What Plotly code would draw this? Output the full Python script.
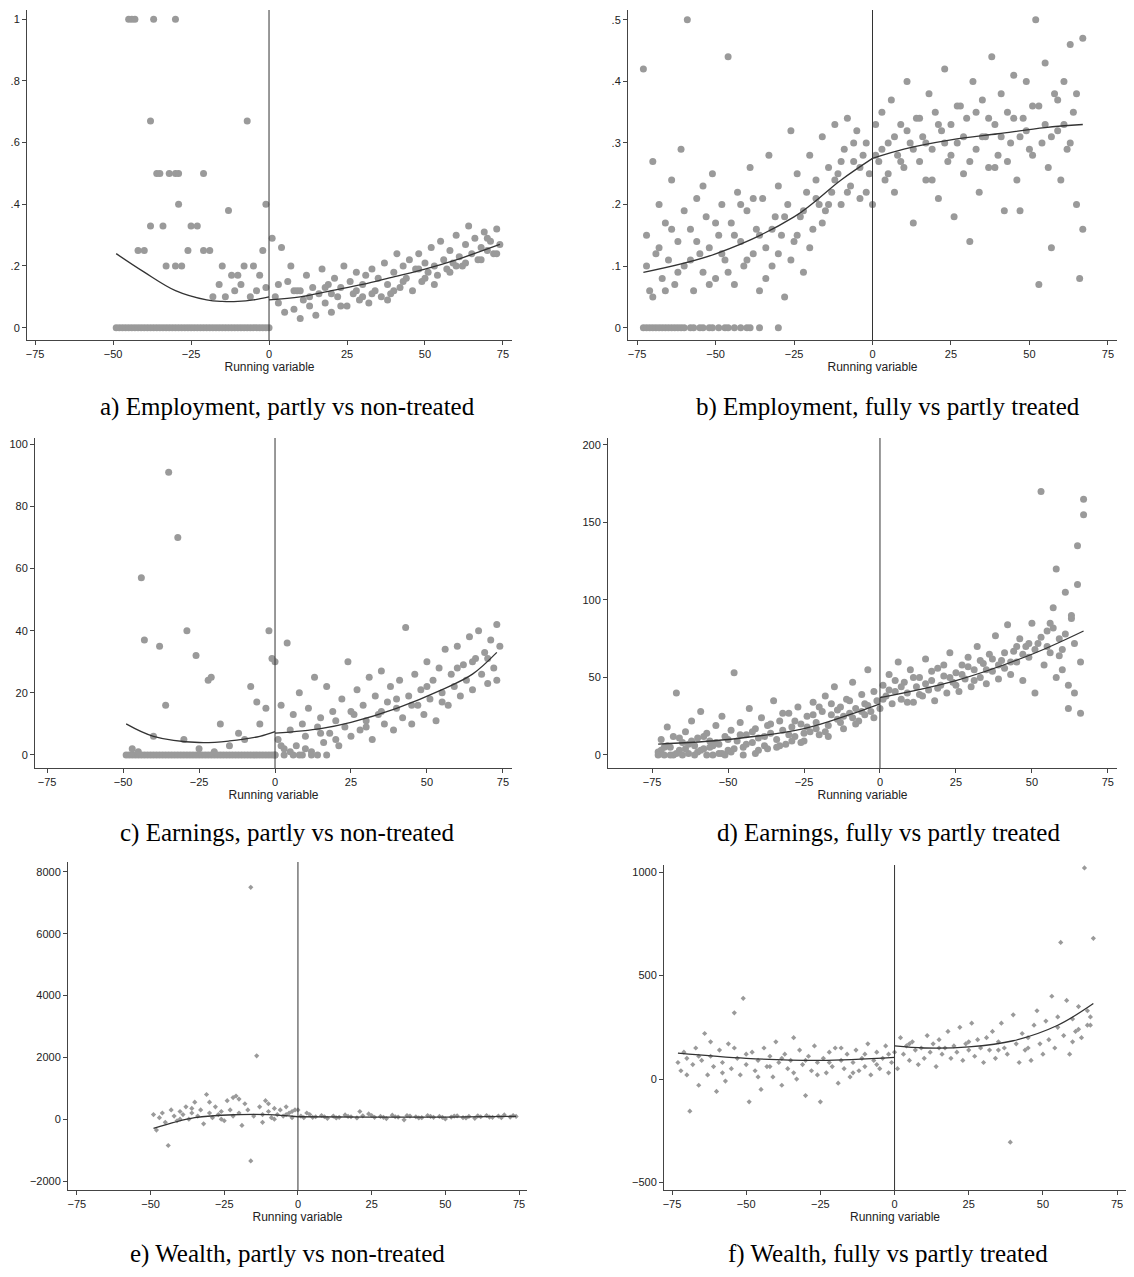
import plotly.graph_objects as go

# ---- panel a: employment, partly vs non-treated ----
a_x = [-49, -48, -47, -46, -45, -44, -43, -42, -41, -40, -39, -38, -37, -36, -35, -34, -33, -32, -31, -30,
       -29, -28, -27, -26, -25, -24, -23, -22, -21, -20, -19, -18, -17, -16, -15, -14, -13, -12, -11, -10,
       -9, -8, -7, -6, -5, -4, -3, -2, -1, 0,
       -45, -44, -43, -37, -30, -38, -7, -38, -36, -35, -32, -30, -29, -21, -40, -42, -33, -30, -28, -29,
       -25, -23, -21, -19, -13, -15, -12, -10, -8, -5, -3, -1, -2, -16, -11, -6, -4, -18, -14, -9, -1, -26, -34,
       1, 2, 3, 4, 5, 6, 7, 8, 9, 10, 11, 12, 13, 14, 15, 16, 17, 18, 19, 20, 21, 22, 23, 24, 25, 26, 27, 28,
       29, 30, 31, 32, 33, 34, 35, 36, 37, 38, 39, 40, 41, 42, 43, 44, 45, 46, 47, 48, 49, 50, 51, 52, 53, 54,
       55, 56, 57, 58, 59, 60, 61, 62, 63, 64, 65, 66, 67, 68, 69, 70, 71, 72, 73, 74,
       3, 8, 13, 18, 23, 28, 33, 38, 43, 48, 53, 58, 63, 68, 73, 10, 20, 30, 40, 50, 60, 70]
a_y = [0] * 50 + [
    1, 1, 1, 1, 1, .67, .67, .33, .5, .5, .5, .5, .5, .5, .25, .25, .2, .2, .2, .4,
    .33, .33, .25, .25, .38, .2, .17, .17, .2, .2, .17, .4, .25, .14, .12, .1, .12, .1, .1, .14, .13, .25, .33,
    .29, .1, .08, .26, .05, .15, .2, .06, .12, .03, .09, .17, .07, .13, .04, .11, .19, .08, .14, .05, .16, .1,
    .13, .2, .07, .15, .11, .18, .09, .14, .17, .08, .19, .12, .16, .1, .21, .14, .11, .18, .24, .13, .2, .16,
    .22, .12, .19, .24, .15, .21, .18, .26, .2, .17, .28, .22, .19, .25, .21, .3, .23, .2, .27, .33, .24, .29,
    .22, .26, .31, .25, .28, .24, .32, .27,
    .14, .12, .1, .13, .07, .12, .11, .09, .15, .19, .14, .18, .21, .22, .24, .12, .11, .1, .12, .16, .2, .29]
a_fit_lx = [-49, -40, -30, -20, -15, -10, -5, 0]
a_fit_ly = [.24, .18, .12, .09, .085, .085, .09, .1]
a_fit_rx = [0, 10, 20, 30, 40, 50, 60, 74]
a_fit_ry = [.09, .1, .12, .14, .165, .19, .22, .27]

# ---- panel b: employment, fully vs partly treated ----
b_x = [-73, -72, -71, -70, -69, -68, -67, -66, -65, -64, -63, -62, -61, -60, -59, -58, -57, -56, -55, -54,
       -53, -52, -51, -50, -49, -48, -47, -46, -45, -44, -43, -42, -41, -40, -39, -38, -37, -36, -35, -34,
       -33, -32, -31, -30, -29, -28, -27, -26, -25, -24, -23, -22, -21, -20, -19, -18, -17, -16, -15, -14,
       -13, -12, -11, -10, -9, -8, -7, -6, -5, -4, -3, -2, -1,
       -72, -70, -68, -66, -64, -62, -60, -58, -56, -54, -52, -50, -48, -46, -44, -42, -40, -38, -36, -34,
       -32, -30, -28, -26, -24, -22, -20, -18, -16, -14, -12, -10, -8, -6, -4, -2,
       -73, -72, -71, -70, -69, -68, -67, -66, -65, -64, -63, -62, -61, -60, -58, -57, -55, -54, -52, -51,
       -49, -47, -46, -44, -42, -40, -39, -36, -30,
       0, 1, 2, 3, 4, 5, 6, 7, 8, 9, 10, 11, 12, 13, 14, 15, 16, 17, 18, 19, 20, 21, 22, 23, 24, 25, 26, 27,
       28, 29, 30, 31, 32, 33, 34, 35, 36, 37, 38, 39, 40, 41, 42, 43, 44, 45, 46, 47, 48, 49, 50, 51, 52, 53,
       54, 55, 56, 57, 58, 59, 60, 61, 62, 63, 64, 65, 66, 67,
       1, 3, 5, 7, 9, 11, 13, 15, 17, 19, 21, 23, 25, 27, 29, 31, 33, 35, 37, 39, 41, 43, 45, 47, 49, 51, 53,
       55, 57, 59, 61, 63, 65, 67]
b_y = [.42, .15, .06, .27, .12, .2, .08, .17, .11, .24, .07, .14, .29, .1, .5, .16, .06, .21, .12, .09,
       .18, .13, .25, .08, .15, .2, .11, .44, .17, .07, .22, .14, .1, .19, .26, .12, .16, .06, .21, .13,
       .28, .1, .18, .23, .15, .05, .2, .32, .14, .25, .18, .09, .22, .28, .16, .24, .2, .31, .19, .26,
       .22, .33, .25, .2, .29, .34, .23, .27, .32, .21, .28, .3, .25,
       .1, .05, .13, .06, .16, .09, .19, .11, .14, .23, .07, .17, .12, .09, .15, .2, .11, .21, .15, .08,
       .16, .12, .18, .11, .15, .19, .13, .21, .17, .2, .24, .27, .22, .3, .26, .22] + [0] * 29 + [
       .2, .33, .27, .35, .24, .3, .37, .22, .28, .33, .26, .4, .3, .17, .34, .27, .31, .24, .38, .29, .35,
       .21, .32, .42, .27, .33, .18, .3, .36, .25, .34, .14, .4, .29, .22, .37, .31, .26, .44, .33, .28, .38,
       .19, .35, .3, .41, .24, .19, .34, .4, .29, .36, .5, .07, .3, .43, .26, .13, .38, .32, .24, .4, .29,
       .46, .35, .2, .08, .16,
       .28, .29, .25, .31, .27, .32, .29, .34, .3, .24, .33, .3, .28, .36, .31, .27, .35, .31, .34, .26,
       .31, .27, .34, .31, .32, .28, .36, .33, .31, .37, .33, .3, .38, .47]
b_fit_lx = [-73, -50, -25, -10, 0]
b_fit_ly = [.09, .12, .18, .24, .275]
b_fit_rx = [0, 10, 25, 40, 55, 67]
b_fit_ry = [.275, .29, .305, .315, .325, .33]

# ---- panel c: earnings, partly vs non-treated ----
c_x = [-49, -48, -47, -46, -45, -44, -43, -42, -41, -40, -39, -38, -37, -36, -35, -34, -33, -32, -31, -30,
       -29, -28, -27, -26, -25, -24, -23, -22, -21, -20, -19, -18, -17, -16, -15, -14, -13, -12, -11, -10,
       -9, -8, -7, -6, -5, -4, -3, -2, -1, 0,
       -35, -32, -44, -43, -38, -29, -26, -36, -22, -21, -8, -2, -1, 0, -40, -30, -18, -15, -10, -5, -3, -6,
       -12, -25, -20, -47, -45,
       1, 2, 3, 4, 5, 6, 7, 8, 9, 10, 11, 12, 13, 14, 15, 16, 17, 18, 19, 20, 21, 22, 23, 24, 25, 26, 27, 28,
       29, 30, 31, 32, 33, 34, 35, 36, 37, 38, 39, 40, 41, 42, 43, 44, 45, 46, 47, 48, 49, 50, 51, 52, 53, 54,
       55, 56, 57, 58, 59, 60, 61, 62, 63, 64, 65, 66, 67, 68, 69, 70, 71, 72, 73, 74,
       2, 5, 8, 10, 15, 20, 25, 30, 35, 40, 45, 50, 55, 60, 65, 70, 73, 0, 3, 6, 9, 12, 14, 17]
c_y = [0] * 50 + [
    91, 70, 57, 37, 35, 40, 32, 16, 24, 25, 22, 40, 31, 30, 6, 5, 10, 3, 5, 10, 15, 17, 7, 2, 1, 2, 1,
    5, 16, 2, 36, 8, 13, 3, 20, 10, 6, 15, 1, 25, 9, 12, 4, 22, 7, 14, 11, 3, 18, 9, 30, 6, 13, 21, 8, 16,
    11, 25, 5, 19, 13, 27, 10, 17, 22, 8, 15, 24, 12, 41, 19, 10, 26, 16, 21, 13, 30, 18, 24, 11, 28, 20,
    34, 16, 26, 22, 35, 19, 29, 24, 38, 21, 31, 40, 26, 33, 23, 37, 28, 42, 35,
    3, 1, 0, 2, 7, 5, 14, 9, 14, 18, 16, 22, 17, 28, 30, 31, 24, 0, 0, 0, 0, 0, 0, 0]
c_fit_lx = [-49, -40, -25, -15, -5, 0]
c_fit_ly = [10, 6, 4, 4.5, 6, 7.5]
c_fit_rx = [0, 15, 25, 40, 55, 65, 73]
c_fit_ry = [7, 8.5, 10.5, 15, 21, 26, 33]

# ---- panel d: earnings, fully vs partly treated ----
d_x = [-73, -72, -71, -70, -69, -68, -67, -66, -65, -64, -63, -62, -61, -60, -59, -58, -57, -56, -55, -54,
       -53, -52, -51, -50, -49, -48, -47, -46, -45, -44, -43, -42, -41, -40, -39, -38, -37, -36, -35, -34,
       -33, -32, -31, -30, -29, -28, -27, -26, -25, -24, -23, -22, -21, -20, -19, -18, -17, -16, -15, -14,
       -13, -12, -11, -10, -9, -8, -7, -6, -5, -4, -3, -2, -1,
       -72, -70, -68, -66, -64, -62, -60, -58, -56, -54, -52, -50, -48, -46, -44, -42, -40, -38, -36, -34,
       -32, -30, -28, -26, -24, -22, -20, -18, -16, -14, -12, -10, -8, -6, -4, -2,
       -73, -71, -69, -67, -65, -63, -61, -59, -57, -55, -53, -51, -49, -45, -41, -37, -33, -29, -25, -21,
       -17, -13, -9, -5,
       0, 1, 2, 3, 4, 5, 6, 7, 8, 9, 10, 11, 12, 13, 14, 15, 16, 17, 18, 19, 20, 21, 22, 23, 24, 25, 26, 27,
       28, 29, 30, 31, 32, 33, 34, 35, 36, 37, 38, 39, 40, 41, 42, 43, 44, 45, 46, 47, 48, 49, 50, 51, 52, 53,
       54, 55, 56, 57, 58, 59, 60, 61, 62, 63, 64, 65, 66, 67,
       1, 3, 5, 7, 9, 11, 13, 15, 17, 19, 21, 23, 25, 27, 29, 31, 33, 35, 37, 39, 41, 43, 45, 47, 49, 51, 53,
       55, 57, 59, 61, 63, 65, 67, 66, 64, 62, 60, 58, 56]
d_y = [2, 10, 0, 18, 5, 12, 40, 3, 8, 15, 1, 22, 6, 11, 28, 4, 14, 9, 0, 19, 7, 25, 12, 3, 16, 53, 9, 21,
       5, 13, 30, 8, 17, 11, 24, 6, 19, 14, 35, 10, 22, 16, 7, 27, 18, 12, 31, 20, 9, 25, 15, 34, 21, 13,
       28, 38, 19, 26, 44, 23, 31, 17, 36, 27, 47, 30, 22, 39, 33, 55, 28, 41, 35,
       3, 6, 0, 11, 4, 9, 2, 12, 5, 8, 1, 10, 4, 13, 7, 15, 3, 12, 20, 5, 27, 13, 22, 8, 18, 26, 31, 15, 33,
       29, 25, 35, 20, 28, 32, 24,
       0, 5, 0, 1, 0, 7, 0, 3, 0, 6, 1, 0, 2, 0, 1, 4, 6, 9, 14, 17, 12, 21, 24, 26,
       30, 45, 38, 52, 33, 41, 60, 36, 47, 40, 55, 34, 44, 50, 38, 62, 42, 48, 35, 56, 45, 51, 40, 66, 47,
       53, 41, 58, 49, 63, 44, 55, 70, 50, 59, 46, 65, 54, 77, 49, 61, 56, 84, 52, 67, 60, 75, 48, 70, 63,
       85, 40, 72, 170, 58, 80, 66, 95, 50, 75, 68, 105, 45, 88, 72, 135, 60, 155,
       36, 42, 48, 44, 34, 50, 39, 46, 54, 43, 58, 50, 45, 52, 57, 48, 61, 55, 62, 58, 66, 60, 70, 65, 72,
       68, 76, 70, 82, 64, 78, 90, 110, 165, 27, 40, 30, 55, 120, 85]
d_fit_lx = [-73, -50, -25, -10, 0]
d_fit_ly = [7, 10, 17, 26, 33]
d_fit_rx = [0, 25, 50, 67]
d_fit_ry = [37, 48, 65, 80]

# ---- panel e: wealth, partly vs non-treated ----
e_x = [-49, -48, -47, -46, -45, -44, -43, -42, -41, -40, -39, -38, -37, -36, -35, -34, -33, -32, -31, -30,
       -29, -28, -27, -26, -25, -24, -23, -22, -21, -20, -19, -18, -17, -16, -15, -14, -13, -12, -11, -10,
       -9, -8, -7, -6, -5, -4, -3, -2, -1,
       -16, -30, -22, -20, -12, -8, -4, -2, -10, -26, -36, -40,
       0, 2, 4, 6, 8, 10, 12, 14, 16, 18, 20, 22, 24, 26, 28, 30, 32, 34, 36, 38, 40, 42, 44, 46, 48, 50,
       52, 54, 56, 58, 60, 62, 64, 66, 68, 70, 72, 74,
       1, 3, 5, 9, 13, 17, 21, 25, 29, 33, 37, 41, 45, 49, 53, 57, 61, 65, 69, 73]
e_y = [150, -350, 50, 200, -100, -850, 300, 100, -50, 250, 150, 400, 0, 200, 550, 100, 300, -150, 800, 200,
       50, 400, 150, 250, -50, 600, 300, 100, 750, 200, -200, 500, 300, 7500, 100, 2050, 400, 150, 600, 250,
       50, 350, 150, 300, 100, 400, 200, 250, 300,
       -1350, 550, 700, 650, -100, 0, 150, 50, 500, 0, 350, 0,
       300, 50, 150, 80, 120, 30, 100, 60, 140, 80, 40, 110, 170, 60, 90, 20, 130, 70, -20, 100, 80, 50,
       120, 60, 90, 10, 70, 110, 50, 90, 30, 80, 120, 60, 100, 140, 70, 90,
       100, 200, 60, 80, 40, 90, 250, 120, 60, 80, 120, 40, 90, 60, 100, 40, 110, 70, 50, 120]
e_fit_lx = [-49, -35, -20, -10, 0]
e_fit_ly = [-300, 50, 150, 150, 80]
e_fit_rx = [0, 25, 50, 74]
e_fit_ry = [80, 65, 70, 90]

# ---- panel f: wealth, fully vs partly treated ----
f_x = [-73, -72, -71, -70, -69, -68, -67, -66, -65, -64, -63, -62, -61, -60, -59, -58, -57, -56, -55, -54,
       -53, -52, -51, -50, -49, -48, -47, -46, -45, -44, -43, -42, -41, -40, -39, -38, -37, -36, -35, -34,
       -33, -32, -31, -30, -29, -28, -27, -26, -25, -24, -23, -22, -21, -20, -19, -18, -17, -16, -15, -14,
       -13, -12, -11, -10, -9, -8, -7, -6, -5, -4, -3, -2, -1,
       -70, -66, -62, -58, -54, -50, -46, -42, -38, -34, -30, -26, -22, -18, -14, -10, -6, -2,
       0, 1, 2, 3, 4, 5, 6, 7, 8, 9, 10, 11, 12, 13, 14, 15, 16, 17, 18, 19, 20, 21, 22, 23, 24, 25, 26, 27,
       28, 29, 30, 31, 32, 33, 34, 35, 36, 37, 38, 39, 40, 41, 42, 43, 44, 45, 46, 47, 48, 49, 50, 51, 52, 53,
       54, 55, 56, 57, 58, 59, 60, 61, 62, 63, 64, 65, 66, 67,
       5, 15, 25, 35, 45, 55, 60, 62, 65, 66]
f_y = [80, 40, 130, 100, -155, 70, 150, -30, 90, 220, 20, 110, 60, -60, 140, 80, -10, 170, 50, 320, 100,
       20, 390, 70, -110, 130, 40, 90, -50, 150, 60, 110, 10, 180, 80, -30, 120, 50, 90, 200, 0, 140, 70,
       -80, 110, 40, 160, 80, -110, 100, 30, 130, 60, 150, -20, 90, 50, 120, 10, 80, 140, 40, 100, 60, 170,
       20, 90, 130, 50, 100, 160, 30, 80,
       20, 110, 180, 30, 150, 120, 10, 60, 100, 30, 90, 20, 80, 150, 30, 120, 70, 120,
       130, 50, 200, 120, 160, 90, 180, 140, 70, 150, 100, 210, 130, 170, 60, 190, 120, 150, 230, 100, 160,
       130, 250, 90, 170, 140, 270, 110, 190, 150, 80, 200, 140, 230, 100, 180, 270, 150, 120, -305, 310,
       170, 80, 220, 140, 200, 90, 260, 330, 170, 120, 280, 190, 400, 150, 300, 660, 210, 380, 120, 290,
       230, 350, 200, 1020, 260, 300, 680,
       170, 150, 180, 140, 150, 250, 180, 240, 330, 260]
f_fit_lx = [-73, -50, -25, 0]
f_fit_ly = [125, 100, 90, 105]
f_fit_rx = [0, 10, 25, 40, 55, 67]
f_fit_ry = [160, 150, 155, 185, 260, 365]

x_ticks = [-75, -50, -25, 0, 25, 50, 75]
captions = ["a) Employment, partly vs non-treated", "b) Employment, fully vs partly treated",
            "c) Earnings, partly vs non-treated", "d) Earnings, fully vs partly treated",
            "e) Wealth, partly vs non-treated", "f) Wealth, fully vs partly treated"]

# the page body adds an 8px margin, so the figure is drawn 16px smaller and positions are offset
OFF = 8
W, H = 1134 - 2 * OFF, 1277 - 2 * OFF
GRAY = "#9a9a9a"


def px_x(v):
    return (v - OFF) / W


def px_y(v):
    return 1 - (v - OFF) / H


# pixel boxes in the reference (left, right, top, bottom), axis ranges, ticks, marker size
panels = [
    dict(x=a_x, y=a_y, fit=(a_fit_lx, a_fit_ly, a_fit_rx, a_fit_ry), box=(27, 512, 10, 340),
         xr=[-77.6, 77.9], yr=[-0.04, 1.03], yt=[0, .2, .4, .6, .8, 1], ytt=["0", ".2", ".4", ".6", ".8", "1"],
         ms=7, cap=(287, 407)),
    dict(x=b_x, y=b_y, fit=(b_fit_lx, b_fit_ly, b_fit_rx, b_fit_ry), box=(628, 1117, 10, 340),
         xr=[-77.9, 77.9], yr=[-0.02, 0.516], yt=[0, .1, .2, .3, .4, .5],
         ytt=["0", ".1", ".2", ".3", ".4", ".5"], ms=7, cap=(888, 407)),
    dict(x=c_x, y=c_y, fit=(c_fit_lx, c_fit_ly, c_fit_rx, c_fit_ry), box=(35, 512, 438, 768),
         xr=[-79, 78], yr=[-4.2, 102], yt=[0, 20, 40, 60, 80, 100], ytt=None, ms=7, cap=(287, 833)),
    dict(x=d_x, y=d_y, fit=(d_fit_lx, d_fit_ly, d_fit_rx, d_fit_ry), box=(608, 1117, 438, 768),
         xr=[-89.5, 78], yr=[-8.4, 204.5], yt=[0, 50, 100, 150, 200], ytt=None, ms=7, cap=(888, 833)),
    dict(x=e_x, y=e_y, fit=(e_fit_lx, e_fit_ly, e_fit_rx, e_fit_ry), box=(68, 527, 862, 1190),
         xr=[-78, 77.7], yr=[-2290, 8320], yt=[-2000, 0, 2000, 4000, 6000, 8000], ytt=None, ms=4,
         cap=(287, 1254)),
    dict(x=f_x, y=f_y, fit=(f_fit_lx, f_fit_ly, f_fit_rx, f_fit_ry), box=(664, 1133, 865, 1190),
         xr=[-77.7, 78], yr=[-536, 1034], yt=[-500, 0, 500, 1000], ytt=None, ms=4, cap=(888, 1254)),
]

fig = go.Figure()
layout = {}
for i, p in enumerate(panels, start=1):
    xa = "x" if i == 1 else f"x{i}"
    ya = "y" if i == 1 else f"y{i}"
    l, r, t, b = p["box"]
    fig.add_trace(go.Scatter(x=p["x"], y=p["y"], mode="markers", xaxis=xa, yaxis=ya,
                             marker=dict(color=GRAY, size=p["ms"],
                                         symbol="circle" if p["ms"] > 5 else "diamond"),
                             showlegend=False, hoverinfo="skip"))
    lx, ly, rx, ry = p["fit"]
    for fx, fy in ((lx, ly), (rx, ry)):
        fig.add_trace(go.Scatter(x=fx, y=fy, mode="lines", xaxis=xa, yaxis=ya,
                                 line=dict(color="#333333", width=1.3, shape="spline"),
                                 showlegend=False, hoverinfo="skip"))
    axis_common = dict(showgrid=False, zeroline=False, showline=True, linecolor="#444444", linewidth=1,
                       ticks="outside", ticklen=4, tickcolor="#444444", automargin=False,
                       tickfont=dict(family="Liberation Sans, Arial", size=11, color="#222222"))
    layout["xaxis" if i == 1 else f"xaxis{i}"] = dict(
        domain=[px_x(l), min(px_x(r), 1)], range=p["xr"], anchor=ya, tickvals=x_ticks,
        title=dict(text="Running variable", standoff=0,
                   font=dict(family="Liberation Sans, Arial", size=12, color="#222222")),
        **axis_common)
    ya_dict = dict(domain=[px_y(b), px_y(t)], range=p["yr"], anchor=xa, tickvals=p["yt"], **axis_common)
    if p["ytt"]:
        ya_dict["ticktext"] = p["ytt"]
    layout["yaxis" if i == 1 else f"yaxis{i}"] = ya_dict
    fig.add_shape(type="line", xref=xa, yref=f"{ya} domain", x0=0, x1=0, y0=0, y1=1,
                  line=dict(color="#333333", width=1))
    cx, cy = p["cap"]
    fig.add_annotation(x=px_x(cx), y=px_y(cy), xref="paper", yref="paper", text=captions[i - 1],
                       xanchor="center", yanchor="middle", showarrow=False,
                       font=dict(family="Liberation Serif, Times New Roman", size=25, color="black"))

fig.update_layout(width=W, height=H, margin=dict(l=0, r=0, t=0, b=0), plot_bgcolor="white",
                  paper_bgcolor="white", **layout)
fig.write_html("out.html")
